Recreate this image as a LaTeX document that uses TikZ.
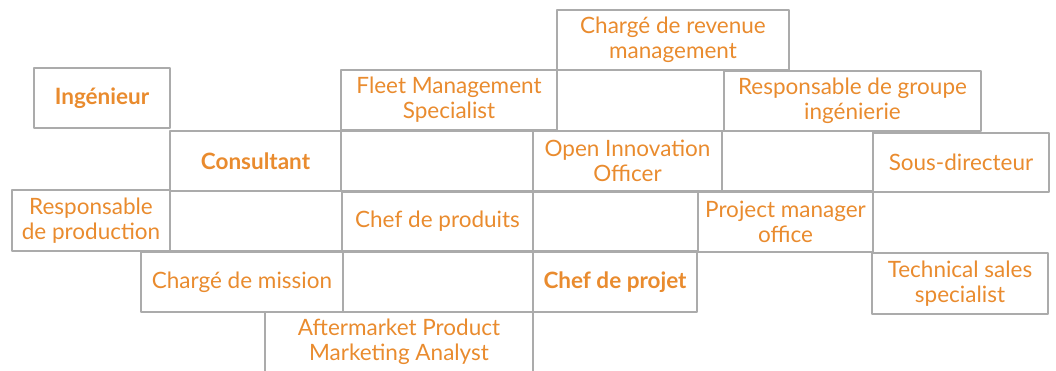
\documentclass[tikz,border=0pt]{standalone}
\usepackage{fontspec}
\setmainfont{Lato}
\definecolor{jobtext}{HTML}{E98B2E}
\definecolor{jobline}{HTML}{ABABAB}
\begin{document}
\begin{tikzpicture}[x=1pt,y=-1pt,line join=round,font=\fontsize{22.5}{25}\selectfont,
		job/.style 2 args={draw=jobline,line width=1.7pt,text=jobtext,align=center,inner sep=0pt,minimum width=#1,minimum height=#2},
		key/.style={font=\fontsize{22.5}{25}\selectfont\bfseries}]
			\useasboundingbox (0,0) rectangle (1056,370);
			\clip (0,0) rectangle (1056,370);
			% top rows
			\node [job={232}{60}] (revenue) at (673,40) {Chargé de revenue\\management};
			\node [job={136}{60}, key] (ingenieur) at (102,98) {Ingénieur};
			\node [job={216}{60}] (fleet) at (449,100) {Fleet Management\\Specialist};
			\node [job={167}{60}] (blankA) at (640.5,100.5) {};
			\node [job={257}{60}] (groupe) at (852.5,101) {Responsable de groupe\\ingénierie};
			\node [job={171}{60}, key] (consultant) at (255.5,161) {Consultant};
			\node [job={192}{60}] (blankB) at (437,161) {};
			\node [job={189}{60}] (innovation) at (627.5,161) {Open Innovation\\Officer};
			\node [job={151}{60}] (blankC) at (797.5,161) {};
			\node [job={176}{59}] (directeur) at (961,162.5) {Sous-directeur};
			% bottom rows
			\node [job={158}{61}] (production) at (91,220.5) {Responsable\\de production};
			\node [job={172}{60}] (blankD) at (256,221) {};
			\node [job={191}{59}] (produits) at (437.5,221.5) {Chef de produits};
			\node [job={165}{59}] (blankE) at (615.5,221.5) {};
			\node [job={175}{60}] (office) at (785.5,222) {Project manager\\office};
			\node [job={202}{60}] (mission) at (242,282) {Chargé de mission};
			\node [job={190}{60}] (blankF) at (438,282) {};
			\node [job={164}{60}, key] (projet) at (615,282) {Chef de projet};
			\node [job={176}{61}] (sales) at (960,283.5) {Technical sales\\specialist};
			\node [job={268}{60}] (aftermarket) at (399,342) {Aftermarket Product\\Marketing Analyst};
		\end{tikzpicture}
\end{document}
